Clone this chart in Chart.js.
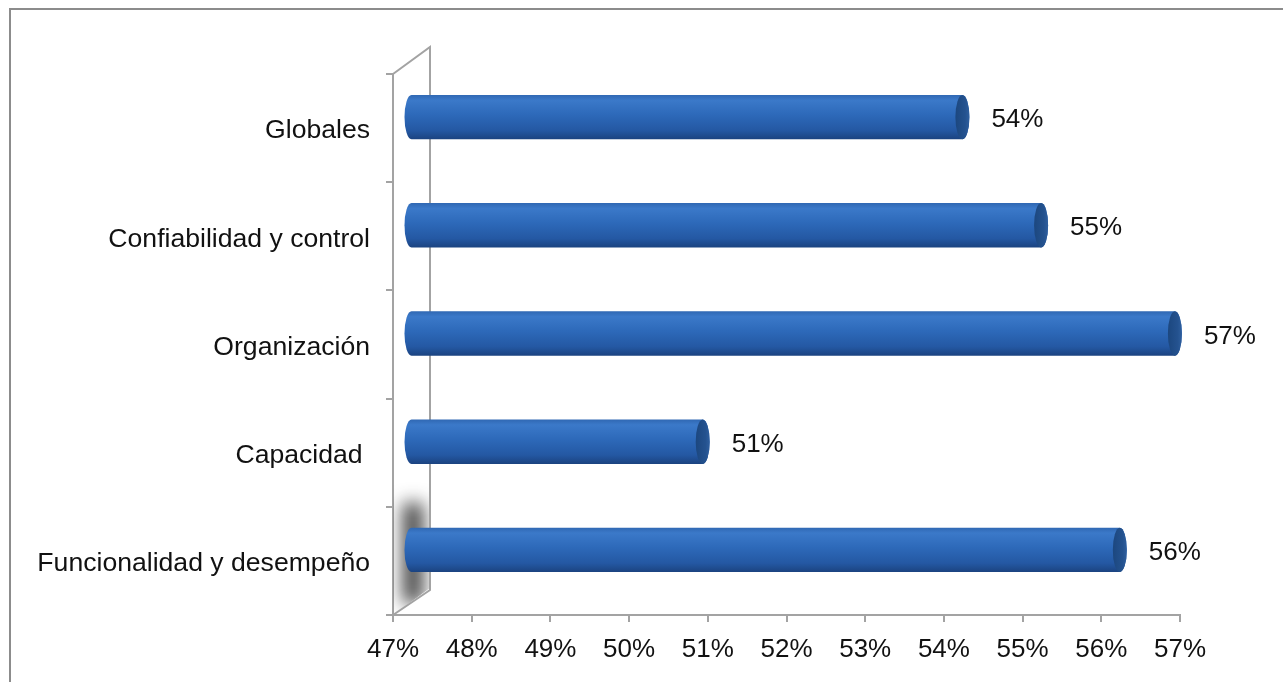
<!DOCTYPE html>
<html>
<head>
  <meta charset="utf-8">
  <title>Resultados por dimensión</title>
  <script src="https://cdn.jsdelivr.net/npm/chart.js"></script>
  <style>
    body {
      margin: 0;
      background: #fff;
      overflow: hidden;
    }
    #wrap {
      position: relative;
      width: 1283px;
      height: 682px;
    }
    #frame {
      position: absolute;
      left: 9px;
      top: 8px;
      right: -10px;
      bottom: -10px;
      border-top: 2px solid #8c8c8c;
      border-left: 2px solid #8c8c8c;
      pointer-events: none;
    }
  </style>
</head>
<body>
  <div id="wrap">
    <canvas id="barChart" width="1283" height="682"></canvas>
    <div id="frame"></div>
  </div>

  <script>
    const categories = ['Globales', 'Confiabilidad y control', 'Organización', 'Capacidad ', 'Funcionalidad y desempeño'];
    const values = [54.0, 55.0, 56.7, 50.7, 56.0];
    const axisMin = 47;
    const axisMax = 57;
    const axisStep = 1;

    const FONT = '"Liberation Sans", Arial, sans-serif';
    const GRID = '#a3a3a3';
    // depth of the 3d floor / wall
    const DX = 37, DY = -27;

    // back wall, outline and the soft shadow near the bottom
    const wallPlugin = {
      id: 'wall',
      beforeDatasetsDraw(chart) {
        const { ctx, chartArea: a } = chart;
        ctx.save();

        // shadow on the wall
        ctx.save();
        ctx.beginPath();
        ctx.moveTo(a.left, a.top);
        ctx.lineTo(a.left + DX, a.top + DY);
        ctx.lineTo(a.left + DX, a.bottom + DY);
        ctx.lineTo(a.left, a.bottom);
        ctx.closePath();
        ctx.clip();
        ctx.filter = 'blur(9px)';
        ctx.fillStyle = 'rgba(30,30,30,0.85)';
        ctx.fillRect(a.left + 10, a.bottom - 112, 20, 100);
        ctx.restore();

        ctx.strokeStyle = GRID;
        ctx.lineWidth = 2;
        ctx.beginPath();
        ctx.moveTo(a.left, a.top);
        ctx.lineTo(a.left + DX, a.top + DY);
        ctx.lineTo(a.left + DX, a.bottom + DY + 2);
        ctx.lineTo(a.left, a.bottom);
        ctx.stroke();
        ctx.restore();
      }
    };

    // cylinders drawn from the bar elements, set at half depth
    const cylinderPlugin = {
      id: 'cylinders',
      afterDatasetsDraw(chart) {
        const { ctx } = chart;
        const meta = chart.getDatasetMeta(0);
        const start = chart.scales.x.getPixelForValue(axisMin);
        const ox = DX / 2, oy = -11;
        ctx.save();
        meta.data.forEach((bar, i) => {
          const x0 = start + ox;
          const x1 = bar.x + ox;
          const yc = bar.y + oy;
          const ry = bar.height / 2;
          const rx = 7;

          const g = ctx.createLinearGradient(0, yc - ry, 0, yc + ry);
          g.addColorStop(0, '#3068b3');
          g.addColorStop(0.12, '#3b79c9');
          g.addColorStop(0.45, '#2d69b9');
          g.addColorStop(0.8, '#2458a3');
          g.addColorStop(1, '#1b4380');

          ctx.beginPath();
          ctx.moveTo(x0, yc - ry);
          ctx.lineTo(x1, yc - ry);
          ctx.ellipse(x1, yc, rx, ry, 0, -Math.PI / 2, Math.PI / 2);
          ctx.lineTo(x0, yc + ry);
          ctx.ellipse(x0, yc, rx, ry, 0, Math.PI / 2, Math.PI * 1.5);
          ctx.closePath();
          ctx.fillStyle = g;
          ctx.fill();

          // end cap
          const c = ctx.createLinearGradient(x1 - rx, 0, x1 + rx, 0);
          c.addColorStop(0, '#1c477f');
          c.addColorStop(0.7, '#24528f');
          c.addColorStop(1, '#2f5f9e');
          ctx.beginPath();
          ctx.ellipse(x1, yc, rx, ry, 0, 0, Math.PI * 2);
          ctx.fillStyle = c;
          ctx.fill();

          // value label
          ctx.fillStyle = '#111';
          ctx.font = '26px ' + FONT;
          ctx.textAlign = 'left';
          ctx.textBaseline = 'middle';
          ctx.fillText(Math.round(values[i]) + '%', x1 + rx + 22, yc + 3);
        });
        ctx.restore();
      }
    };

    new Chart(document.getElementById('barChart'), {
      type: 'bar',
      data: {
        labels: categories,
        datasets: [{
          data: values,
          base: axisMin,
          backgroundColor: 'rgba(0,0,0,0)',
          barPercentage: 0.41,
          categoryPercentage: 1
        }]
      },
      options: {
        indexAxis: 'y',
        responsive: false,
        animation: false,
        layout: { padding: { top: 74, right: 103, left: 0, bottom: 0 } },
        plugins: {
          legend: { display: false },
          tooltip: { enabled: false }
        },
        scales: {
          x: {
            min: axisMin,
            max: axisMax,
            afterFit(scale) { scale.height = 67; },
            border: { color: GRID, width: 2 },
            grid: { drawOnChartArea: false, color: GRID, lineWidth: 2, tickLength: 7 },
            ticks: {
              stepSize: axisStep,
              color: '#111',
              padding: 12,
              font: { family: FONT, size: 26 },
              callback: v => v + '%'
            }
          },
          y: {
            afterFit(scale) { scale.width = 393; },
            border: { color: GRID, width: 2 },
            grid: { drawOnChartArea: false, color: GRID, lineWidth: 2, tickLength: 7, offset: true },
            ticks: {
              color: '#111',
              padding: 16,
              labelOffset: 3,
              font: { family: FONT, size: 26.6 }
            }
          }
        }
      },
      plugins: [wallPlugin, cylinderPlugin]
    });
  </script>
</body>
</html>
